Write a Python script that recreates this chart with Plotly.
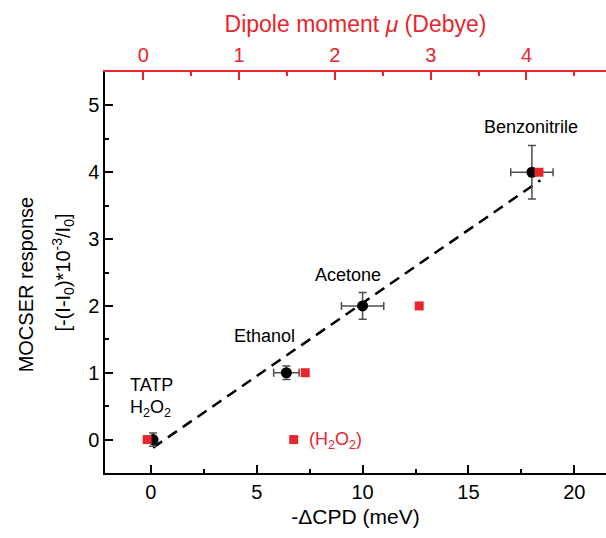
import plotly.graph_objects as go

# ---- data ----
cpd = [0.1, 6.4, 10.0, 18.0]            # -ΔCPD (meV), black circles
response = [0, 1, 2, 4]                  # MOCSER response
cpd_err = [0.0, 0.6, 1.0, 1.0]
response_err = [0.1, 0.1, 0.2, 0.4]

dipole = [0.04, 1.57, 1.69, 2.88, 4.13]  # Debye, red squares
dipole_response = [0, 0, 1, 2, 4]

fit_x = [0.1, 18.4]                      # linear fit (dashed)
fit_y = [-0.12, 3.88]

RED = "#e8262d"
FONT = "Arial, Liberation Sans, sans-serif"

fig = go.Figure()

fig.add_trace(go.Scatter(
    x=fit_x, y=fit_y, mode="lines",
    line=dict(color="black", width=2.5, dash="11px,7px"),
    showlegend=False, hoverinfo="skip"))

fig.add_trace(go.Scatter(
    x=cpd, y=response, mode="markers",
    marker=dict(symbol="circle", size=11, color="black"),
    error_x=dict(type="data", array=cpd_err, color="#4d4d4d", thickness=1.5, width=4),
    error_y=dict(type="data", array=response_err, color="#4d4d4d", thickness=1.5, width=4),
    showlegend=False))

fig.add_trace(go.Scatter(
    x=dipole, y=dipole_response, mode="markers", xaxis="x2",
    marker=dict(symbol="square", size=9, color=RED),
    showlegend=False))

ann_font = dict(family=FONT, size=18, color="black")
fig.add_annotation(x=-1.09, y=0.82, text="TATP", showarrow=False, xanchor="left", font=ann_font)
fig.add_annotation(x=-1.09, y=0.47, text="H<sub>2</sub>O<sub>2</sub>", showarrow=False, xanchor="left", font=ann_font)
fig.add_annotation(x=5.37, y=1.55, text="Ethanol", showarrow=False, font=ann_font)
fig.add_annotation(x=9.31, y=2.46, text="Acetone", showarrow=False, font=ann_font)
fig.add_annotation(x=17.97, y=4.67, text="Benzonitrile", showarrow=False, font=ann_font)
fig.add_annotation(x=7.36, y=-0.02, text="(H<sub>2</sub>O<sub>2</sub>)", showarrow=False, xanchor="left",
                   font=dict(family=FONT, size=18, color=RED))

# first line of the y-axis title
fig.add_annotation(xref="paper", yref="paper", x=-0.158, y=0.47, xanchor="center", yanchor="middle",
                   text="MOCSER response", textangle=-90, showarrow=False,
                   font=dict(family=FONT, size=20, color="black"))

axis_common = dict(showgrid=False, zeroline=False, showline=True, ticks="inside",
                   ticklen=8, tickwidth=1.5)

fig.update_layout(
    width=606, height=538,
    margin=dict(l=105, r=0, t=72, b=65, pad=0),
    paper_bgcolor="white", plot_bgcolor="white",
    font=dict(family=FONT, size=20, color="black"),
    xaxis=dict(**axis_common, range=[-2.17, 21.5], dtick=5, tick0=0,
               linecolor="black", linewidth=1.5, tickcolor="black",
               minor=dict(ticks="inside", ticklen=4, dtick=2.5, tick0=0, tickcolor="black", tickwidth=1.5),
               tickfont=dict(size=20, color="black"),
               title=dict(text="-ΔCPD (meV)", font=dict(size=21), standoff=8)),
    xaxis2=dict(**axis_common, overlaying="x", side="top", anchor="y",
                range=[-0.4, 4.83], dtick=1, tick0=0,
                linecolor=RED, linewidth=2, tickcolor=RED,
                minor=dict(ticks="inside", ticklen=4, dtick=0.5, tick0=0, tickcolor=RED, tickwidth=1.5),
                tickfont=dict(size=20, color=RED),
                title=dict(text="Dipole moment <i>μ</i> (Debye)", font=dict(size=23, color=RED), standoff=5)),
    yaxis=dict(**axis_common, range=[-0.5, 5.5], dtick=1, tick0=0,
               linecolor="black", linewidth=1.5, tickcolor="black",
               minor=dict(ticks="inside", ticklen=4, dtick=0.5, tick0=0, tickcolor="black", tickwidth=1.5),
               tickfont=dict(size=20, color="black"),
               title=dict(text="[-(I-I<sub>0</sub>)*10<sup>-3</sup>/I<sub>0</sub>]",
                          font=dict(size=20), standoff=12)),
)

fig.write_html("out.html")
